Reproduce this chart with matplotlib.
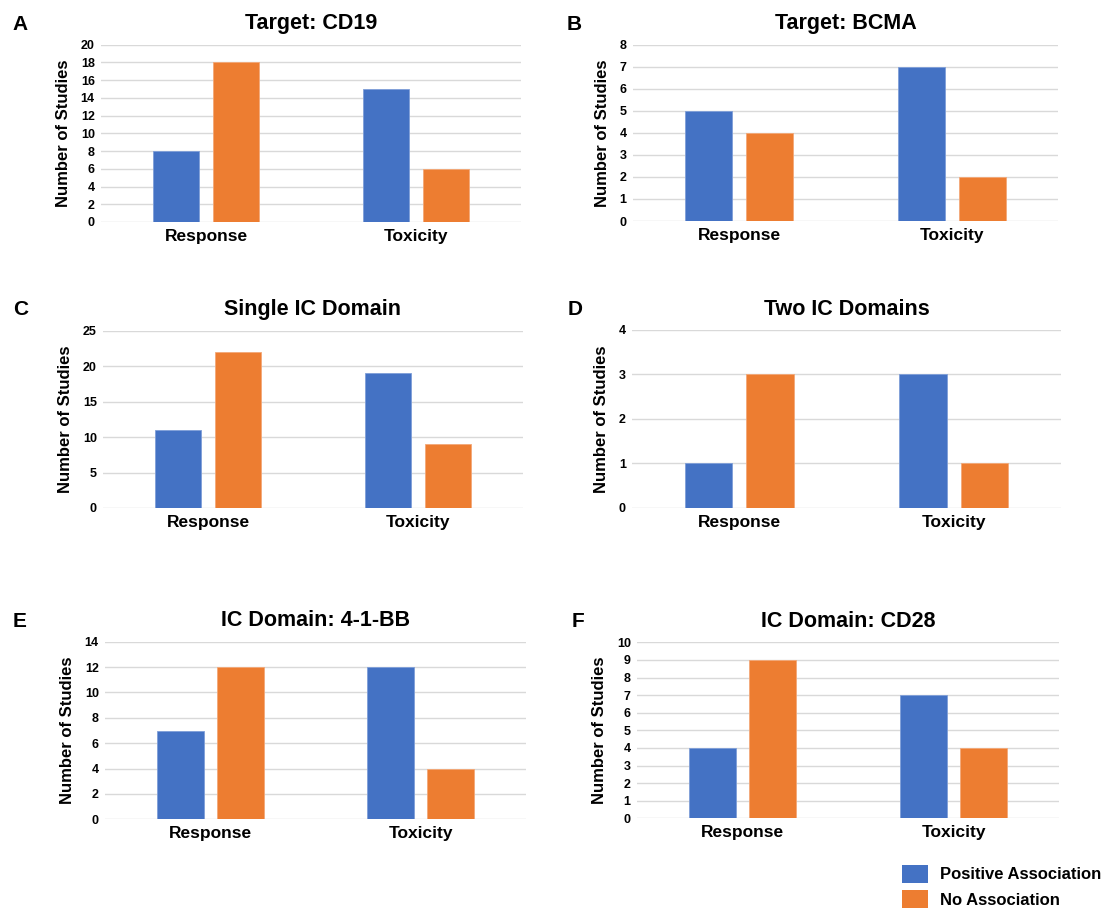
import matplotlib
matplotlib.use("Agg")
import matplotlib.pyplot as plt
from matplotlib.patches import Patch
import numpy as np

plt.rcParams["font.family"] = ["Liberation Sans", "DejaVu Sans"]
plt.rcParams["font.weight"] = "bold"

categories = ["Response", "Toxicity"]
series_names = ["Positive Association", "No Association"]
colors = ["#4472C4", "#ED7D31"]

panel_letters = ["A", "B", "C", "D", "E", "F"]
panel_titles = ["Target: CD19", "Target: BCMA", "Single IC Domain",
                "Two IC Domains", "IC Domain: 4-1-BB", "IC Domain: CD28"]
positive = [[8, 15], [5, 7], [11, 19], [1, 3], [7, 12], [4, 7]]
no_assoc = [[18, 6], [4, 2], [22, 9], [3, 1], [12, 4], [9, 4]]
y_max = [20, 8, 25, 4, 14, 10]
y_step = [2, 1, 5, 1, 2, 1]

W, H = 1111, 913
# axes boxes in pixels: left, right, top, bottom
boxes = [
    (101, 521, 44.7, 222),
    (633, 1058, 44.7, 221),
    (103, 523, 330.7, 508),
    (632, 1061, 330, 507.7),
    (105, 526, 641.7, 819.3),
    (637, 1059, 642.3, 818.3),
]
letter_pos = [(12, 30), (567, 30), (13, 315), (568, 315), (13, 627), (572, 627)]

fig = plt.figure(figsize=(W / 100, H / 100), dpi=100)

x = np.arange(len(categories))
bw = 0.222
off = 0.143

for i in range(6):
    l, r, t, b = boxes[i]
    ax = fig.add_axes([l / W, 1 - b / H, (r - l) / W, (b - t) / H])
    ax.bar(x - off, positive[i], bw, color=colors[0], edgecolor="#7f9ed8",
           linewidth=0.6, zorder=3)
    ax.bar(x + off, no_assoc[i], bw, color=colors[1], edgecolor="#f3a878",
           linewidth=0.6, zorder=3)
    ax.set_xlim(-0.5, 1.5)
    ax.set_ylim(0, y_max[i])
    ax.set_yticks(np.arange(0, y_max[i] + 0.1, y_step[i]))
    ax.yaxis.grid(True, color="#d9d9d9", linewidth=1.0, zorder=0)
    ax.set_axisbelow(True)
    for s in ["top", "right", "left", "bottom"]:
        ax.spines[s].set_visible(False)
    ax.tick_params(axis="both", length=0)
    ax.tick_params(axis="y", pad=4.5, labelsize=9)
    ax.tick_params(axis="x", pad=5, labelsize=12.5)
    ax.set_xticks(x)
    ax.set_xticklabels(categories, fontweight="bold")
    for lab in ax.get_yticklabels():
        lab.set_fontweight("bold")
    ax.set_ylabel("Number of Studies", fontsize=12, fontweight="bold", labelpad=7)
    ax.set_title(panel_titles[i], fontsize=15.5, fontweight="bold", pad=11)
    lx, ly = letter_pos[i]
    fig.text(lx / W, 1 - ly / H, panel_letters[i], fontsize=15,
             fontweight="bold", va="baseline", ha="left")

handles = [Patch(facecolor=c, edgecolor="none") for c in colors]
fig.legend(handles, series_names, loc="upper left",
           bbox_to_anchor=(902 / W, 1 - 865 / H), frameon=False,
           prop={"size": 12, "weight": "bold"}, borderpad=0, borderaxespad=0,
           handlelength=1.56, handleheight=1.26, handletextpad=0.72,
           labelspacing=0.45)

fig.savefig("out.png", dpi=100)
